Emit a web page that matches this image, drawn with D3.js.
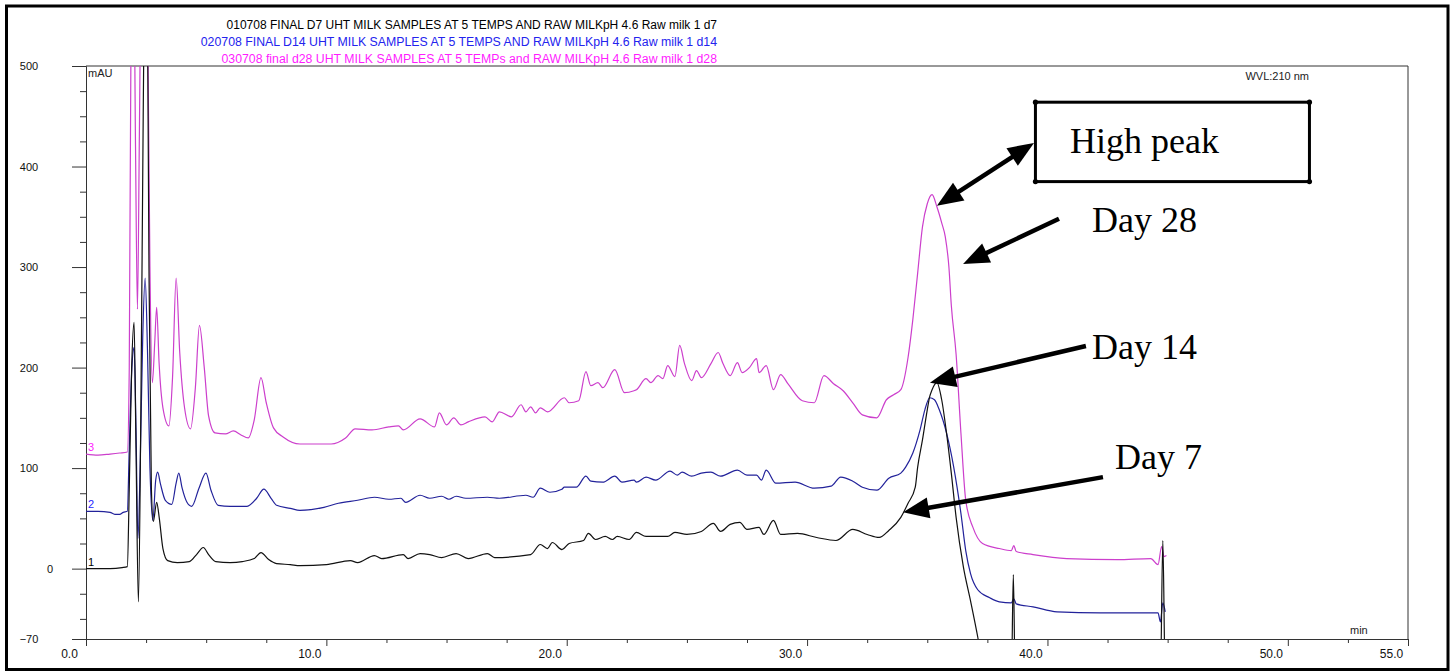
<!DOCTYPE html>
<html><head><meta charset="utf-8">
<script src="https://cdn.jsdelivr.net/npm/d3@7"></script>
<style>
body{margin:0;background:#fff}
svg{display:block}
text{font-family:"Liberation Sans",Arial,sans-serif}
text.serif{font-family:"Liberation Serif","Times New Roman",serif}
</style>
</head><body>
<svg id="c" width="1454" height="671"></svg>
<script>
// ---------- data ----------
const headerLines = [
  "010708 FINAL  D7 UHT MILK SAMPLES AT 5 TEMPS AND RAW MILKpH 4.6 Raw milk 1 d7",
  "020708 FINAL D14 UHT MILK SAMPLES AT 5 TEMPS AND RAW MILKpH 4.6 Raw milk 1 d14",
  "030708 final d28 UHT MILK SAMPLES AT 5 TEMPs and RAW MILKpH 4.6 Raw milk 1 d28"
];
const traceNames = ["1", "2", "3"];
const yMajorTicks = [500, 400, 300, 200, 100, 0, -70];
const xMajorTicks = [0, 10, 20, 30, 40, 50, 55];
const yDomain = [-70, 500];
const xDomain = [0, 55];

// Day 7 (trace 1) [min, mAU]
const day7 = [[0,0],[1.0,0],[1.5,1],[1.72,2],[1.8,80],[1.9,200],[2.0,245],[2.08,120],[2.18,-33],[2.28,150],[2.38,450],[2.5,720],[2.62,300],[2.72,80],[2.8,47],[2.94,66],[3.05,50],[3.2,20],[3.4,8],[3.8,6],[4.3,7],[4.6,14],[4.88,21],[5.1,14],[5.4,7],[6.0,6],[6.5,7],[7.0,10],[7.28,16],[7.6,9],[7.93,5],[8.5,4],[8.9,3],[10.0,4],[11.0,8],[11.3,6],[12.0,13],[12.3,10],[13.2,14],[13.4,10],[13.9,15],[14.3,14],[14.8,11],[15.4,15],[15.9,10],[16.7,15],[17.0,11],[18.5,14],[18.9,24],[19.2,20],[19.4,26],[19.8,19],[20.1,25],[20.7,28],[20.9,35],[21.2,29],[21.6,32],[21.9,29],[22.1,32],[22.6,29],[22.9,36],[23.3,32],[24.2,32],[24.5,36],[25.0,34],[25.6,37],[26.1,45],[26.4,37],[26.8,44],[27.2,46],[27.5,39],[28.0,41],[28.2,34],[28.6,48],[28.9,34],[29.6,35],[30.4,31],[31.2,28],[31.9,39],[32.5,34],[33.0,31],[33.4,38],[33.9,51],[34.2,65],[34.5,81],[34.6,101],[34.8,128],[35.0,158],[35.1,171],[35.2,178],[35.4,185],[35.6,168],[35.8,135],[36.0,95],[36.2,51],[36.5,2],[36.8,-32],[37.1,-68],[37.3,-95],[38.5,-110],[38.58,-6],[38.66,-110],[44.7,-110],[44.8,28],[44.9,-110],[45.0,-110]];

// Day 14 (trace 2)
const day14 = [[0,57],[0.5,57],[1.0,56],[1.2,54],[1.4,54],[1.55,56],[1.72,57],[1.8,120],[1.9,195],[2.0,220],[2.08,140],[2.16,30],[2.26,110],[2.36,230],[2.46,289],[2.56,215],[2.66,100],[2.78,48],[2.9,88],[2.98,96],[3.1,84],[3.3,68],[3.57,64],[3.75,85],[3.86,95],[4.0,80],[4.2,66],[4.4,62],[4.7,80],[4.99,95],[5.2,78],[5.5,63],[6.0,62],[6.7,62],[7.1,70],[7.4,79],[7.7,70],[7.93,63],[8.5,60],[8.9,58],[9.9,61],[10.5,65],[11.3,68],[12.0,71],[12.6,69],[13.1,70],[13.3,66],[13.9,73],[14.3,70],[14.8,72],[15.1,69],[15.4,72],[15.8,70],[16.7,71],[17.2,70],[18.3,73],[18.6,71],[18.9,80],[19.3,76],[19.8,79],[19.9,81],[20.4,81],[20.8,92],[21.0,87],[21.5,86],[22.0,92],[22.3,86],[22.8,88],[22.9,86],[23.3,91],[23.7,88],[24.3,97],[24.6,93],[24.8,96],[25.2,92],[25.6,95],[26.0,96],[26.4,92],[27.1,98],[27.5,93],[27.9,93],[28.1,88],[28.3,98],[28.7,85],[29.5,86],[30.3,80],[31.0,82],[31.4,91],[31.9,87],[32.3,81],[32.9,78],[33.4,90],[33.9,95],[34.1,101],[34.4,115],[34.7,138],[34.9,158],[35.1,170],[35.3,168],[35.5,158],[35.8,135],[36.1,101],[36.4,55],[36.6,18],[36.8,-5],[37.1,-21],[37.6,-29],[38.0,-33],[38.5,-34],[38.6,-30],[38.7,-35],[39.4,-38],[40.4,-43],[42.2,-44],[44.6,-44],[44.7,-53],[44.8,-34],[44.9,-43]];

// Day 28 (trace 3)
const day28 = [[0,114],[0.5,113],[1.0,114],[1.4,115],[1.72,116],[1.8,200],[1.88,560],[1.98,620],[2.06,420],[2.14,258],[2.22,430],[2.3,620],[2.45,720],[2.56,560],[2.66,300],[2.76,185],[2.86,225],[2.94,260],[3.04,205],[3.2,160],[3.45,142],[3.6,190],[3.75,289],[3.9,215],[4.1,160],[4.35,139],[4.55,180],[4.72,242],[4.92,200],[5.1,152],[5.37,135],[5.8,134],[6.13,137],[6.45,133],[6.75,130],[7.0,148],[7.28,190],[7.5,165],[7.8,140],[8.2,131],[8.9,124],[9.5,124],[10.2,124],[10.8,130],[11.2,139],[11.9,138],[12.6,141],[13.0,142],[13.2,138],[13.9,149],[14.5,141],[14.7,155],[15.0,143],[15.3,150],[15.6,143],[15.9,146],[16.6,151],[16.9,146],[17.2,156],[17.7,151],[18.1,163],[18.3,156],[18.5,161],[18.7,155],[18.9,160],[19.2,156],[19.9,170],[20.1,165],[20.5,167],[20.8,196],[21.0,182],[21.3,185],[21.5,180],[22.0,198],[22.4,175],[22.8,177],[22.9,178],[23.3,189],[23.5,185],[23.8,192],[24.0,189],[24.2,202],[24.5,191],[24.7,222],[24.9,204],[25.2,187],[25.4,197],[25.6,190],[26.0,204],[26.3,215],[26.5,204],[26.8,192],[27.1,205],[27.3,195],[27.6,200],[27.9,209],[28.0,195],[28.3,202],[28.6,178],[28.9,193],[29.2,184],[29.8,167],[30.3,165],[30.7,192],[31.1,184],[31.5,177],[31.9,165],[32.3,153],[32.9,150],[33.3,168],[33.6,173],[33.9,178],[34.2,210],[34.4,248],[34.6,294],[34.8,340],[35.0,363],[35.2,372],[35.4,360],[35.6,344],[35.75,330],[35.9,300],[36.0,262],[36.2,213],[36.4,135],[36.6,68],[36.9,41],[37.3,25],[38.0,20],[38.5,18],[38.6,23],[38.7,17],[39.4,14],[40.8,10],[42.9,9],[44.3,10],[44.6,4],[44.75,22],[44.85,12],[44.95,13]];

// annotations in data units [min, mAU]
const annoLabels = ["High peak", "Day 28", "Day 14", "Day 7"];
const annoTextPos = [[40.94, 413], [41.85, 335], [41.85, 209], [42.81, 99]];
const highPeakBox = [[39.5, 464], [50.9, 385]];
const arrowsFrom = [[39.44, 423.5], [40.48, 348], [41.6, 221.5], [42.31, 91]];
const arrowsTo = [[35.4, 361], [36.49, 303], [35.11, 185], [33.99, 56]];

// ---------- drawing ----------
const svg = d3.select("#c");
const x = d3.scaleLinear().domain(xDomain).range([86, 1408]);
const y = d3.scaleLinear().domain(yDomain).range([639, 66]);

// outer thick frame
svg.append("rect").attr("x", 6.5).attr("y", 6).attr("width", 1441.5).attr("height", 663.5)
  .attr("fill", "none").attr("stroke", "#000").attr("stroke-width", 3);

// header
const headerColors = ["#000000", "#2323ee", "#ff1cff"];
headerLines.forEach((t, i) => {
  svg.append("text").attr("x", 717).attr("y", 29 + i * 17)
    .attr("text-anchor", "end").style("font-size", i === 0 ? "12px" : "12.3px")
    .attr("fill", headerColors[i]).text(t);
});

// plot frame: top & right
svg.append("line").attr("x1", 86).attr("x2", 1408).attr("y1", y(500)).attr("y2", y(500)).attr("stroke", "#333");
svg.append("line").attr("x1", 1408).attr("x2", 1408).attr("y1", y(500)).attr("y2", y(-70)).attr("stroke", "#333");

// Y axis
const yMinor = d3.range(-50, 500, 25).filter(v => !yMajorTicks.includes(v));
const gyMinor = svg.append("g").attr("transform", "translate(86,0)")
  .call(d3.axisLeft(y).tickValues(yMinor).tickSize(6).tickFormat(""));
gyMinor.select(".domain").remove();
const gy = svg.append("g").attr("transform", "translate(86,0)")
  .call(d3.axisLeft(y).tickValues(yMajorTicks).tickSize(14).tickFormat(d3.format("d")));
gy.select(".domain").attr("stroke", "#333");
gy.selectAll(".tick text").attr("text-anchor", "middle")
  .attr("x", d => d === 0 ? -36 : -57).style("font-size", "11px").attr("fill", "#111");
svg.selectAll(".tick line").attr("stroke", "#333");

// X axis
const xMinor = d3.range(0, 55, 2.5).filter(v => !xMajorTicks.includes(v));
const gxMinor = svg.append("g").attr("transform", `translate(0,${y(-70)})`)
  .call(d3.axisBottom(x).tickValues(xMinor).tickSize(4).tickFormat(""));
gxMinor.select(".domain").remove();
const gx = svg.append("g").attr("transform", `translate(0,${y(-70)})`)
  .call(d3.axisBottom(x).tickValues(xMajorTicks).tickSize(7).tickFormat(d3.format(".1f")));
gx.select(".domain").attr("stroke", "#333").attr("d", `M72,0.5H1408`);
gx.selectAll(".tick text").attr("text-anchor", "middle").attr("dx", -17)
  .style("font-size", "12px").attr("fill", "#111");
svg.selectAll(".tick line").attr("stroke", "#333");

// texts
svg.append("text").attr("x", 88).attr("y", 77).style("font-size", "11px").attr("fill", "#222").text("mAU");
svg.append("text").attr("x", 1309).attr("y", 80).attr("text-anchor", "end").style("font-size", "11px").attr("fill", "#222").text("WVL:210 nm");
svg.append("text").attr("x", 1350).attr("y", 634).style("font-size", "11px").attr("fill", "#222").text("min");

// traces
svg.append("clipPath").attr("id", "plotclip").append("rect")
  .attr("x", 86).attr("y", y(500)).attr("width", 1408 - 86).attr("height", y(-70) - y(500));
const line = d3.line().x(d => x(d[0])).y(d => y(d[1])).curve(d3.curveMonotoneX);
const series = [
  { data: day7, color: "#111111", label: "#000000" },
  { data: day14, color: "#22229a", label: "#1f1fff" },
  { data: day28, color: "#cc3fcc", label: "#ff22ff" }
];
const gt = svg.append("g").attr("clip-path", "url(#plotclip)");
series.slice().reverse().forEach(s => {
  gt.append("path").attr("d", line(s.data)).attr("fill", "none")
    .attr("stroke", s.color).attr("stroke-width", 1.2).attr("stroke-linejoin", "round");
});
series.forEach((s, i) => {
  svg.append("text").attr("x", 88).attr("y", y(s.data[0][1]) - 3)
    .style("font-size", "11px").attr("fill", s.label).text(traceNames[i]);
});

// annotation box
const bx0 = x(highPeakBox[0][0]), by0 = y(highPeakBox[0][1]);
const bx1 = x(highPeakBox[1][0]), by1 = y(highPeakBox[1][1]);
svg.append("rect").attr("x", bx0).attr("y", by0).attr("width", bx1 - bx0).attr("height", by1 - by0)
  .attr("fill", "none").attr("stroke", "#000").attr("stroke-width", 3);
[[bx0, by0], [bx1, by0], [bx0, by1], [bx1, by1]].forEach(p => {
  svg.append("circle").attr("cx", p[0]).attr("cy", p[1]).attr("r", 2.6).attr("fill", "#000");
});

// annotation texts
annoLabels.forEach((t, i) => {
  svg.append("text").attr("class", "serif").attr("x", x(annoTextPos[i][0])).attr("y", y(annoTextPos[i][1]))
    .style("font-size", "36px").attr("fill", "#000").text(t);
});

// arrows
function head(tip, from, len, half) {
  const dx = tip[0] - from[0], dy = tip[1] - from[1];
  const L = Math.hypot(dx, dy), ux = dx / L, uy = dy / L;
  const bx = tip[0] - ux * len, by = tip[1] - uy * len;
  const pts = [[tip[0], tip[1]], [bx - uy * half, by + ux * half], [bx + uy * half, by - ux * half]];
  svg.append("path").attr("d", "M" + pts.map(p => p.join(",")).join("L") + "Z").attr("fill", "#000");
  return [bx + ux * 4, by + uy * 4];
}
arrowsFrom.forEach((f, i) => {
  const a = [x(f[0]), y(f[1])], b = [x(arrowsTo[i][0]), y(arrowsTo[i][1])];
  const bEnd = head(b, a, 26, 10.5);
  let aEnd = a;
  if (i === 0) aEnd = head(a, b, 26, 10.5);
  svg.append("line").attr("x1", aEnd[0]).attr("y1", aEnd[1]).attr("x2", bEnd[0]).attr("y2", bEnd[1])
    .attr("stroke", "#000").attr("stroke-width", 4.5);
});
</script>
</body></html>
